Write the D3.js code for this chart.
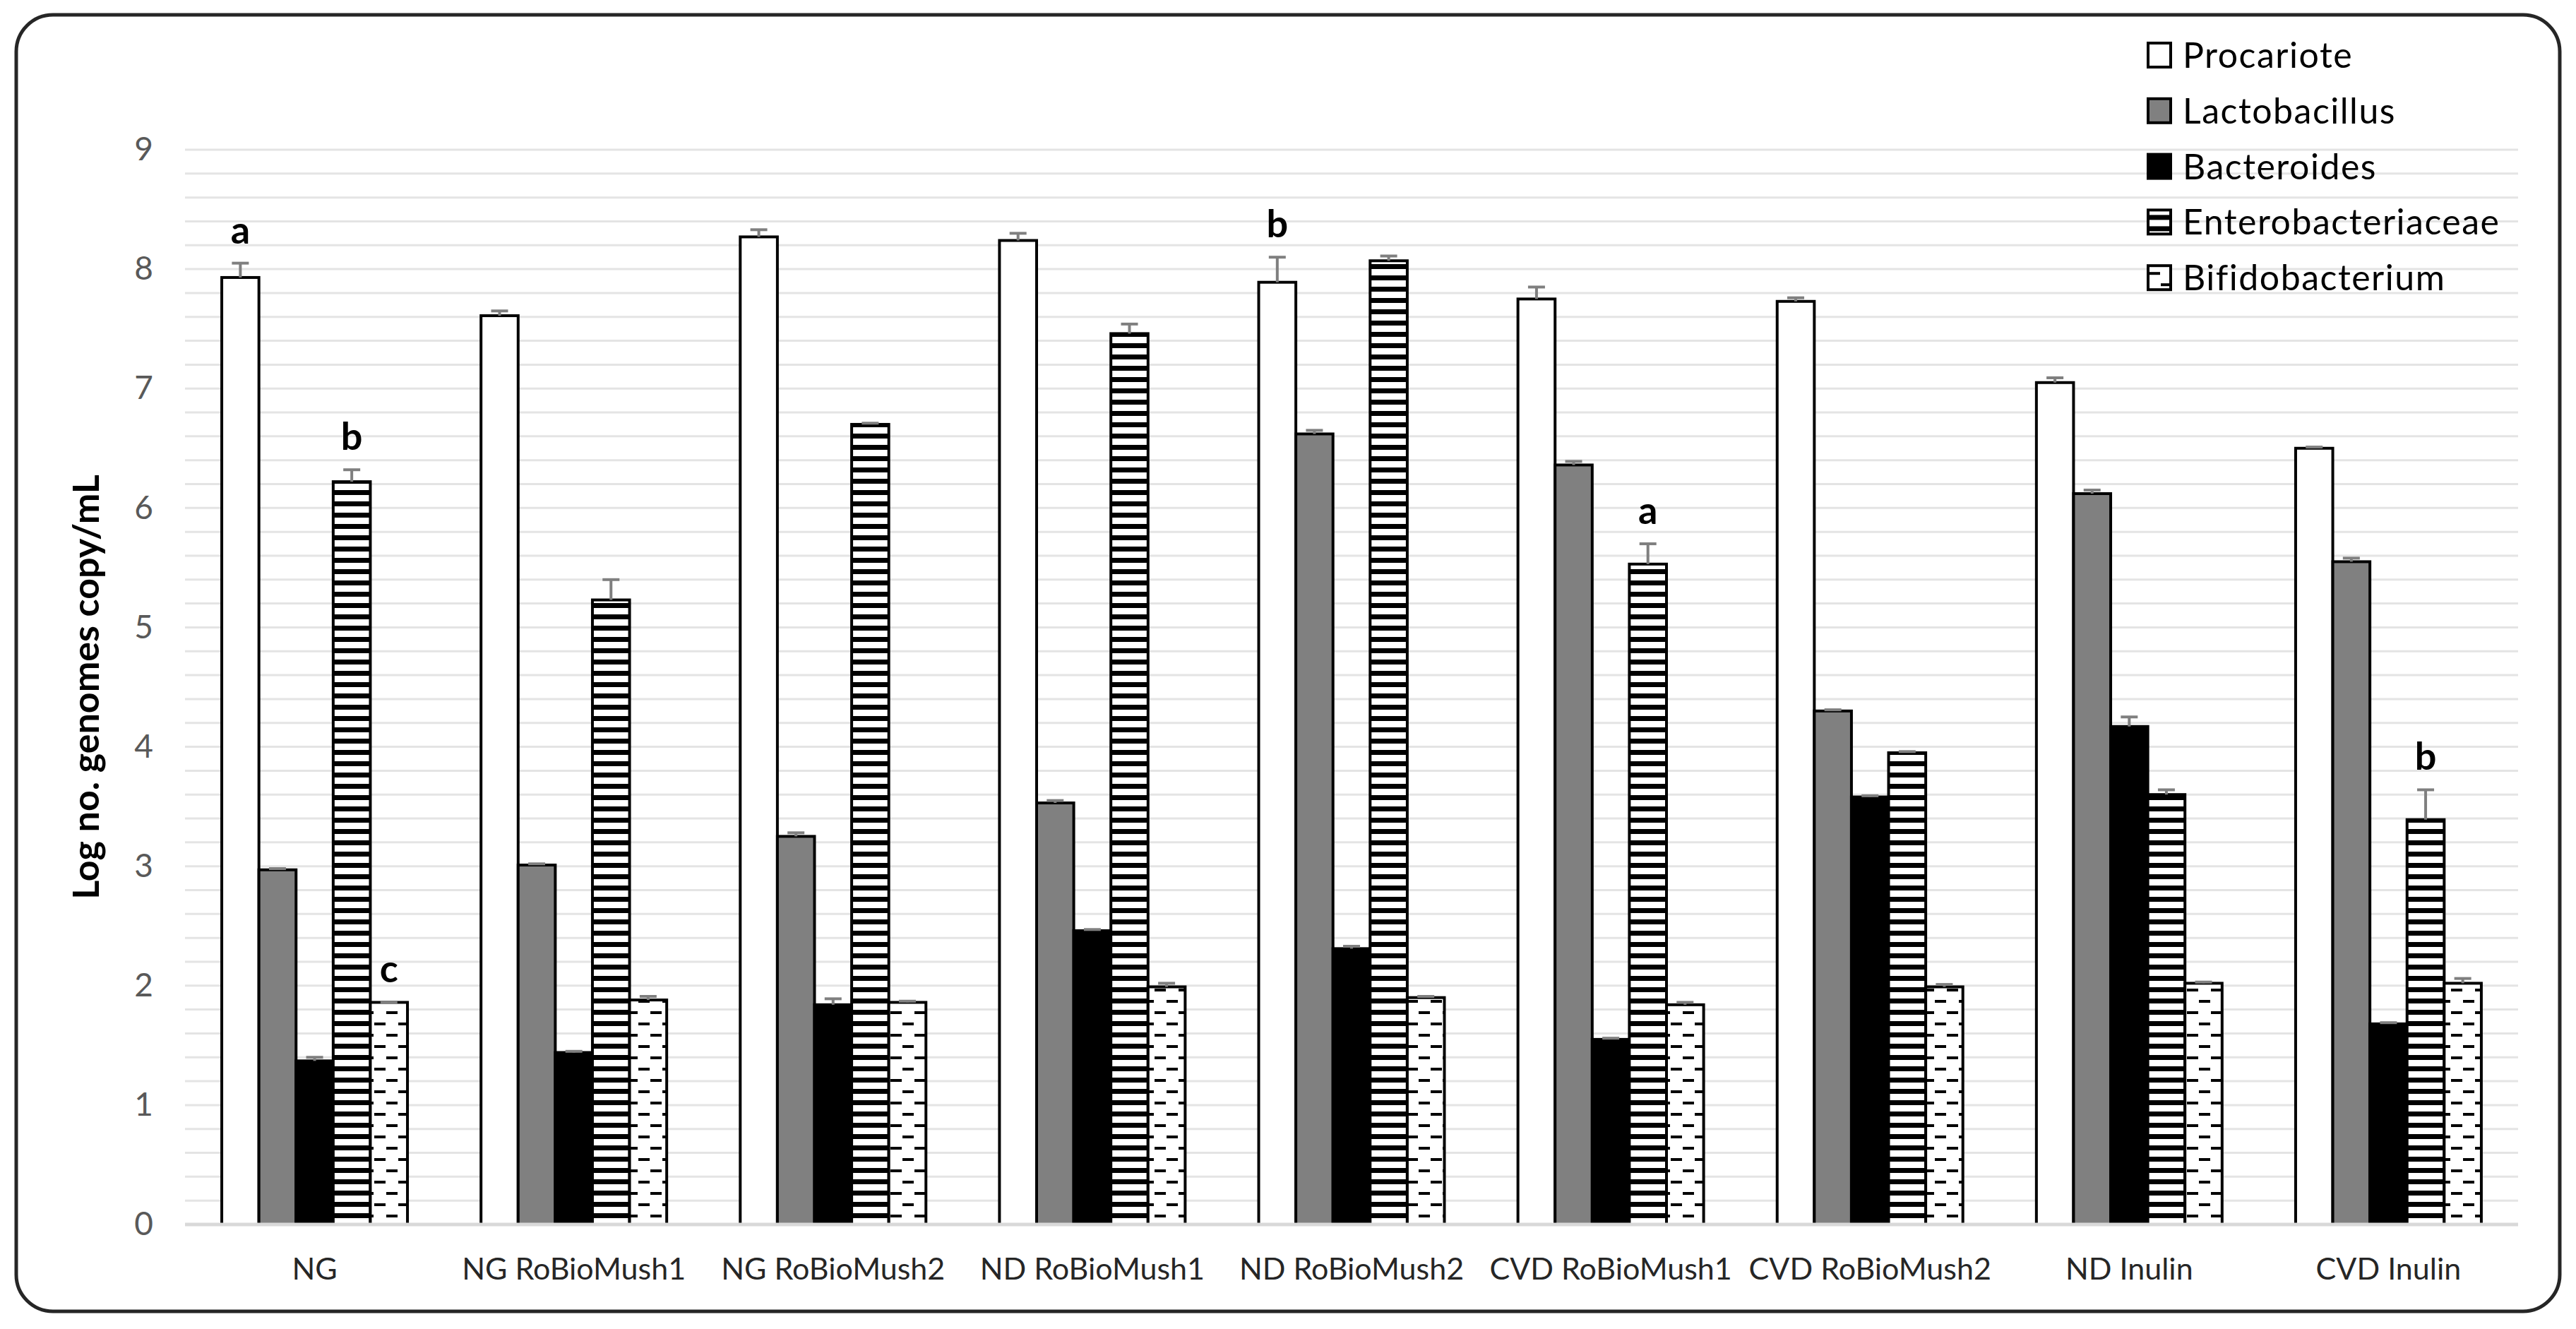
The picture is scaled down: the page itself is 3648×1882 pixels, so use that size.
<!DOCTYPE html>
<html>
<head>
<meta charset="utf-8">
<script src="https://cdn.jsdelivr.net/npm/d3@7"></script>
<style>
  body { margin: 0; background: #fff; }
  text { font-family: Lato, "Open Sans", sans-serif; }
</style>
</head>
<body>
<div id="wrapper"></div>
<script>
// ---------- DATA -----------------------------------------------
const categories = ["NG", "NG RoBioMush1", "NG RoBioMush2", "ND RoBioMush1", "ND RoBioMush2",
  "CVD RoBioMush1", "CVD RoBioMush2", "ND Inulin", "CVD Inulin"];
const seriesNames = ["Procariote", "Lactobacillus", "Bacteroides", "Enterobacteriaceae", "Bifidobacterium"];

const procariote    = [7.93, 7.61, 8.27, 8.24, 7.89, 7.75, 7.73, 7.05, 6.50];
const procarioteErr = [0.12, 0.04, 0.06, 0.06, 0.21, 0.10, 0.03, 0.04, 0.01];
const lactobacillus    = [2.97, 3.01, 3.25, 3.53, 6.62, 6.36, 4.30, 6.12, 5.55];
const lactobacillusErr = [0.01, 0.01, 0.03, 0.02, 0.03, 0.03, 0.01, 0.03, 0.03];
const bacteroides    = [1.37, 1.44, 1.84, 2.46, 2.31, 1.55, 3.58, 4.17, 1.68];
const bacteroidesErr = [0.03, 0.01, 0.05, 0.01, 0.02, 0.01, 0.01, 0.08, 0.01];
const enterobacteriaceae    = [6.22, 5.23, 6.70, 7.46, 8.07, 5.53, 3.95, 3.60, 3.39];
const enterobacteriaceaeErr = [0.10, 0.17, 0.01, 0.08, 0.04, 0.17, 0.01, 0.04, 0.25];
const bifidobacterium    = [1.86, 1.88, 1.86, 1.99, 1.90, 1.84, 1.99, 2.02, 2.02];
const bifidobacteriumErr = [0.00, 0.03, 0.01, 0.03, 0.01, 0.02, 0.02, 0.01, 0.04];

// significance letters: category, series, letter
const letterCategories = ["NG", "NG", "NG", "ND RoBioMush2", "CVD RoBioMush1", "CVD Inulin"];
const letterSeries     = ["Procariote", "Enterobacteriaceae", "Bifidobacterium", "Procariote", "Enterobacteriaceae", "Enterobacteriaceae"];
const letterTexts      = ["a", "b", "c", "b", "a", "b"];

const yTicks = [0, 1, 2, 3, 4, 5, 6, 7, 8, 9];
const yLabel = "Log no. genomes copy/mL";

// ---------- DIMENSIONS ----------------------------------------
const dimensions = {
  width: 3648,
  height: 1882,
  plotLeft: 262,
  plotRight: 3566,
  plotTop: 212,
  plotBottom: 1734,
};

const values = [procariote, lactobacillus, bacteroides, enterobacteriaceae, bifidobacterium];
const errors = [procarioteErr, lactobacillusErr, bacteroidesErr, enterobacteriaceaeErr, bifidobacteriumErr];

const dataset = [];
categories.forEach((c, i) => {
  seriesNames.forEach((s, j) => {
    dataset.push({ category: c, series: s, value: values[j][i], err: errors[j][i] });
  });
});

// ---------- SVG ----------------------------------------
const svg = d3.select("#wrapper").append("svg")
  .attr("width", dimensions.width)
  .attr("height", dimensions.height);

const defs = svg.append("defs");

// horizontal stripes for Enterobacteriaceae
const stripes = defs.append("pattern")
  .attr("id", "stripes")
  .attr("patternUnits", "userSpaceOnUse")
  .attr("y", 6)
  .attr("width", 16).attr("height", 16);
stripes.append("rect").attr("width", 16).attr("height", 16).attr("fill", "#fff");
stripes.append("rect").attr("y", 0).attr("width", 16).attr("height", 7).attr("fill", "#000");

// dashed horizontal for Bifidobacterium
const dashes = defs.append("pattern")
  .attr("id", "dashes")
  .attr("patternUnits", "userSpaceOnUse")
  .attr("x", 20).attr("y", 8)
  .attr("width", 34).attr("height", 32);
dashes.append("rect").attr("width", 34).attr("height", 32).attr("fill", "#fff");
dashes.append("rect").attr("x", 0).attr("y", 0).attr("width", 16).attr("height", 4).attr("fill", "#000");
dashes.append("rect").attr("x", 17).attr("y", 16).attr("width", 16).attr("height", 4).attr("fill", "#000");

const fills = {
  Procariote: "#ffffff",
  Lactobacillus: "#808080",
  Bacteroides: "#000000",
  Enterobacteriaceae: "url(#stripes)",
  Bifidobacterium: "url(#dashes)",
};

// outer rounded frame
svg.append("rect")
  .attr("x", 23).attr("y", 21)
  .attr("width", 3602).attr("height", 1836)
  .attr("rx", 52).attr("ry", 52)
  .attr("fill", "#fff")
  .attr("stroke", "#262626")
  .attr("stroke-width", 5);

// ---------- SCALES ----------------------------------------
const yScale = d3.scaleLinear()
  .domain([0, 9])
  .range([dimensions.plotBottom, dimensions.plotTop]);

const x0 = d3.scaleBand()
  .domain(categories)
  .range([dimensions.plotLeft, dimensions.plotRight])
  .padding(0);

const x1 = d3.scaleBand()
  .domain(seriesNames)
  .range([0, x0.bandwidth()])
  .paddingInner(0)
  .paddingOuter(0.99);

// ---------- GRID ----------------------------------------
const minorTicks = d3.range(1, 46).map(d => d / 5);
svg.append("g").selectAll("line")
  .data(minorTicks)
  .join("line")
  .attr("x1", dimensions.plotLeft)
  .attr("x2", dimensions.plotRight)
  .attr("y1", d => yScale(d))
  .attr("y2", d => yScale(d))
  .attr("stroke", "#e4e4e4")
  .attr("stroke-width", 3);

// ---------- LEGEND ----------------------------------------
const legend = svg.append("g").attr("transform", "translate(3040, 78)");
const legendRows = legend.selectAll("g")
  .data(seriesNames)
  .join("g")
  .attr("transform", (d, i) => `translate(0, ${i * 78.8})`);
legendRows.append("rect")
  .attr("x", 2).attr("y", -17)
  .attr("width", 32).attr("height", 34)
  .attr("fill", d => fills[d])
  .attr("stroke", "#000")
  .attr("stroke-width", 4);
legendRows.append("text")
  .attr("x", 51)
  .attr("y", 18)
  .attr("font-size", 50)
  .attr("letter-spacing", 1.5)
  .attr("fill", "#000")
  .text(d => d);

// ---------- BARS ----------------------------------------
const bars = svg.append("g");
bars.selectAll("rect")
  .data(dataset)
  .join("rect")
  .attr("x", d => x0(d.category) + x1(d.series))
  .attr("y", d => yScale(d.value))
  .attr("width", x1.bandwidth())
  .attr("height", d => yScale(0) - yScale(d.value))
  .attr("fill", d => fills[d.series])
  .attr("stroke", "#000")
  .attr("stroke-width", 4);

// baseline
svg.append("line")
  .attr("x1", dimensions.plotLeft)
  .attr("x2", dimensions.plotRight)
  .attr("y1", yScale(0))
  .attr("y2", yScale(0))
  .attr("stroke", "#d9d9d9")
  .attr("stroke-width", 5);

// ---------- ERROR BARS ----------------------------------------
const errG = svg.append("g").attr("stroke", "#7f7f7f").attr("stroke-width", 4);
const cx = d => x0(d.category) + x1(d.series) + x1.bandwidth() / 2;
errG.selectAll(".stem")
  .data(dataset)
  .join("line")
  .attr("class", "stem")
  .attr("x1", cx).attr("x2", cx)
  .attr("y1", d => yScale(d.value))
  .attr("y2", d => yScale(d.value + d.err));
errG.selectAll(".cap")
  .data(dataset)
  .join("line")
  .attr("class", "cap")
  .attr("x1", d => cx(d) - 12).attr("x2", d => cx(d) + 12)
  .attr("y1", d => yScale(d.value + d.err))
  .attr("y2", d => yScale(d.value + d.err));

// ---------- LETTERS ----------------------------------------
const letters = letterTexts.map((t, i) => {
  const d = dataset.find(e => e.category === letterCategories[i] && e.series === letterSeries[i]);
  return { text: t, d: d };
});
svg.append("g").selectAll("text")
  .data(letters)
  .join("text")
  .attr("x", l => cx(l.d))
  .attr("y", l => yScale(l.d.value + l.d.err) - 28)
  .attr("text-anchor", "middle")
  .attr("font-size", 54)
  .attr("font-weight", "bold")
  .attr("fill", "#000")
  .text(l => l.text);

// ---------- AXES ----------------------------------------
const yAxis = svg.append("g")
  .attr("transform", `translate(${dimensions.plotLeft}, 0)`)
  .call(d3.axisLeft(yScale).tickValues(yTicks).tickSize(0).tickPadding(45));
yAxis.select(".domain").remove();
yAxis.selectAll("text")
  .attr("font-size", 46)
  .attr("font-family", "Lato, sans-serif")
  .attr("fill", "#595959");

const xAxis = svg.append("g")
  .attr("transform", `translate(0, ${dimensions.plotBottom})`)
  .call(d3.axisBottom(x0).tickSize(0));
xAxis.select(".domain").remove();
xAxis.selectAll("text")
  .attr("y", 78)
  .attr("dy", 0)
  .attr("font-size", 43)
  .attr("font-family", "Lato, sans-serif")
  .attr("fill", "#262626");

svg.append("text")
  .attr("transform", `translate(140, ${(dimensions.plotTop + dimensions.plotBottom) / 2}) rotate(-90)`)
  .attr("text-anchor", "middle")
  .attr("font-size", 52)
  .attr("font-weight", "bold")
  .attr("fill", "#000")
  .text(yLabel);
</script>
</body>
</html>
